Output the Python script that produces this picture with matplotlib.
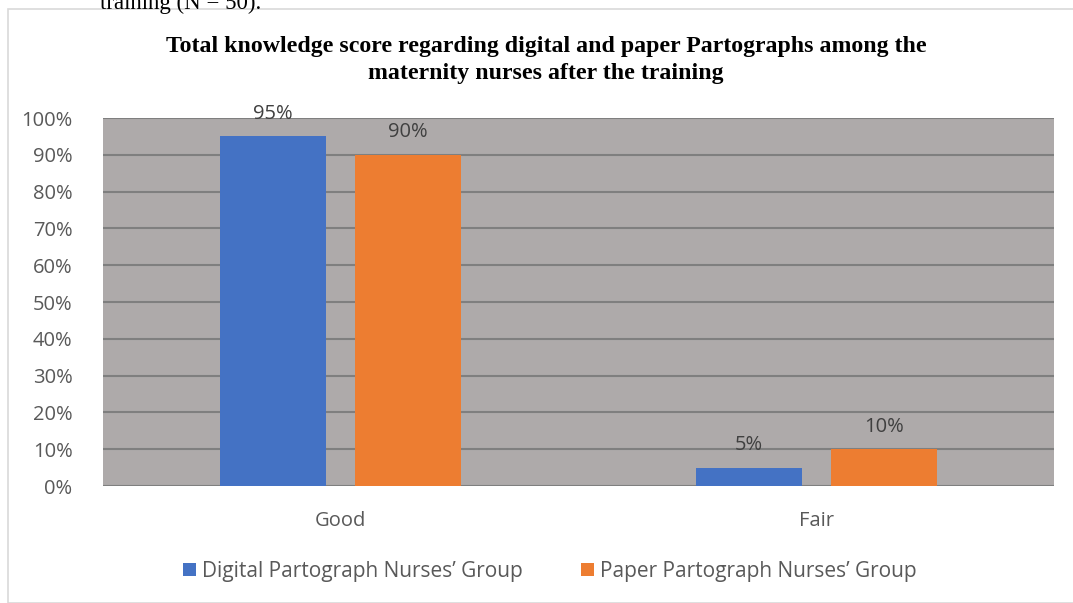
import matplotlib.pyplot as plt
from matplotlib.patches import Rectangle
import numpy as np

categories = ['Good', 'Fair']
digital = [95, 5]
paper = [90, 10]
series_names = ['Digital Partograph Nurses\u2019 Group', 'Paper Partograph Nurses\u2019 Group']
yticks = [0, 10, 20, 30, 40, 50, 60, 70, 80, 90, 100]

blue = '#4472C4'
orange = '#ED7D31'
text_gray = '#595959'
sans = ['Open Sans', 'DejaVu Sans']

fig = plt.figure(figsize=(10.73, 6.03), dpi=100)
fig.patch.set_facecolor('white')

# outer chart border
fig.patches.append(Rectangle((8 / 1073, 0), 1.1, 1 - 9 / 603, transform=fig.transFigure,
                             fill=False, edgecolor='#D9D9D9', linewidth=1.2))
# caption text cut off at the top of the page
fig.text(100 / 1073, 1 - 3 / 603, 'training (N = 50).', family='Liberation Serif',
         fontsize=16.5, color='black', ha='left', va='center')

ax = fig.add_axes([103 / 1073, 1 - 486 / 603, 951 / 1073, 368 / 603])
ax.set_facecolor('#AEAAAA')

x = np.arange(len(categories))
w = 0.223
off = 0.142
b1 = ax.bar(x - off, digital, w, color=blue, zorder=3, label=series_names[0])
b2 = ax.bar(x + off, paper, w, color=orange, zorder=3, label=series_names[1])

for bars, vals in ((b1, digital), (b2, paper)):
    for rect, v in zip(bars, vals):
        ax.annotate(f'{v}%', (rect.get_x() + rect.get_width() / 2, v),
                    xytext=(0, 9), textcoords='offset points', ha='center', va='bottom',
                    fontsize=14.5, color='#404040', family=sans)

ax.set_xlim(-0.5, 1.5)
ax.set_ylim(0, 100)
ax.set_yticks(yticks)
ax.set_yticklabels([f'{t}%' for t in yticks], family=sans, fontsize=14.5, color=text_gray)
ax.set_xticks(x)
ax.set_xticklabels(categories, family=sans, fontsize=14.5, color=text_gray)
ax.tick_params(axis='both', length=0)
ax.tick_params(axis='x', pad=18)
ax.tick_params(axis='y', pad=22)
ax.grid(axis='y', color='#7F7F7F', linewidth=1.5, zorder=1)
for s in ax.spines.values():
    s.set_visible(False)

fig.text(546 / 1073, 1 - 60 / 603,
         'Total knowledge score regarding digital and paper Partographs among the\nmaternity nurses after the training',
         family='Liberation Serif', fontweight='bold', fontsize=17.2, ha='center', va='center',
         linespacing=1.35)

fig.legend(handles=[b1, b2], loc='center', bbox_to_anchor=(550 / 1073, 1 - 571 / 603),
           ncol=2, frameon=False, prop={'family': sans, 'size': 15}, labelcolor=text_gray,
           handlelength=0.6, handleheight=0.6, handletextpad=0.3, columnspacing=2.8)

fig.savefig('out.png', dpi=100)
